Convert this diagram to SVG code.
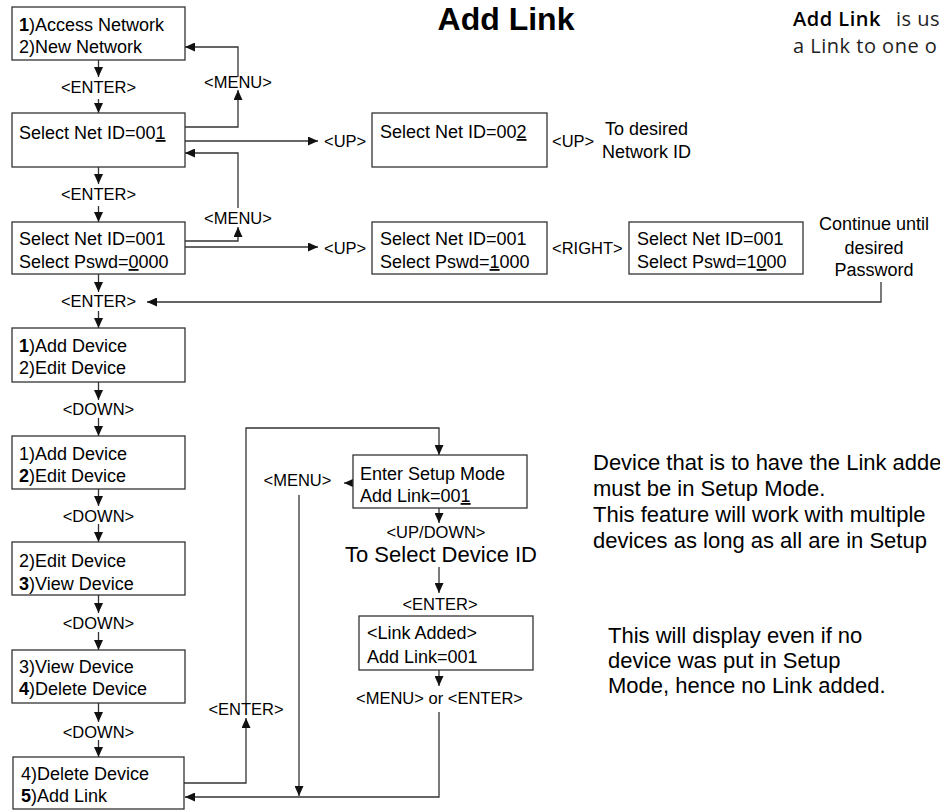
<svg xmlns="http://www.w3.org/2000/svg" width="940" height="811" viewBox="0 0 940 811">
<style>
  .box { fill: #fff; stroke: #333; stroke-width: 1.3; }
  .bt { font-family: "Liberation Sans", Arial, sans-serif; font-size: 18px; fill: #000; }
  .lb { font-family: "Liberation Sans", Arial, sans-serif; font-size: 16.5px; fill: #000; }
  .mid { text-anchor: middle; }
  .big { font-family: "Liberation Sans", Arial, sans-serif; font-size: 22px; fill: #000; }
  .note { font-family: "Open Sans", "DejaVu Sans", sans-serif; font-size: 20px; letter-spacing: 0.5px; fill: #222; }
  .con { fill: none; stroke: #333; stroke-width: 1.3; }
  .ar { marker-end: url(#ah); }
  .u { text-decoration: underline; }
  .b { font-weight: bold; }
</style>
<defs>
  <marker id="ah" markerUnits="userSpaceOnUse" markerWidth="10" markerHeight="9" refX="10" refY="4.5" orient="auto">
    <path d="M0,0 L10,4.5 L0,9 z" fill="#111"/>
  </marker>
</defs>
<rect width="940" height="811" fill="#fff"/>

<g id="title">
  <text x="506" y="30" font-family="Liberation Sans, Arial, sans-serif" font-size="32" font-weight="bold" text-anchor="middle">Add Link</text>
</g>
<g id="intro">
  <text class="note" x="793" y="25.5"><tspan fill="#000" font-weight="600">Add Link</tspan><tspan x="896">is us</tspan></text>
  <text class="note" x="793" y="53">a Link to one o</text>
</g>

<g id="connectors">
  <path class="con ar" d="M98.5,60 V77"/>
  <path class="con ar" d="M98.5,99 V113"/>
  <path class="con ar" d="M98.5,167 V184"/>
  <path class="con ar" d="M98.5,206 V222"/>
  <path class="con ar" d="M98.5,274 V292"/>
  <path class="con ar" d="M98.5,311 V328"/>
  <path class="con ar" d="M98.5,382 V400"/>
  <path class="con ar" d="M98.5,418 V436"/>
  <path class="con ar" d="M98.5,489 V506"/>
  <path class="con ar" d="M98.5,524 V542"/>
  <path class="con ar" d="M98.5,595 V613"/>
  <path class="con ar" d="M98.5,632 V650"/>
  <path class="con ar" d="M98.5,703 V722"/>
  <path class="con ar" d="M98.5,740 V757"/>

  <path class="con ar" d="M185,127 H238 V90"/>
  <path class="con ar" d="M238,77 V47 H185"/>
  <path class="con ar" d="M185,141 H318"/>
  <path class="con ar" d="M238,208 V153 H185"/>
  <path class="con ar" d="M185,241 H238 V227"/>
  <path class="con ar" d="M185,247 H318"/>
  <path class="con ar" d="M881,282 V302 H147"/>

  <path class="con ar" d="M184,783 H246 V718"/>
  <path class="con ar" d="M246,703 V428 H439 V455"/>
  <path class="con ar" d="M353,483 H344"/>
  <path class="con ar" d="M299,495 V796"/>
  <path class="con ar" d="M439,712 V797 H185"/>
  <path class="con ar" d="M439,508 V523"/>
  <path class="con ar" d="M439,567 V593"/>
  <path class="con ar" d="M439,670 V686"/>
</g>

<g id="labels">
  <text class="lb mid" x="98.5" y="93">&lt;ENTER&gt;</text>
  <text class="lb mid" x="98.5" y="200">&lt;ENTER&gt;</text>
  <text class="lb mid" x="98.5" y="307">&lt;ENTER&gt;</text>
  <text class="lb mid" x="98.5" y="415">&lt;DOWN&gt;</text>
  <text class="lb mid" x="98.5" y="522">&lt;DOWN&gt;</text>
  <text class="lb mid" x="98.5" y="629">&lt;DOWN&gt;</text>
  <text class="lb mid" x="98.5" y="738">&lt;DOWN&gt;</text>
  <text class="lb mid" x="238" y="88">&lt;MENU&gt;</text>
  <text class="lb mid" x="238" y="224">&lt;MENU&gt;</text>
  <text class="lb" x="324" y="147">&lt;UP&gt;</text>
  <text class="lb" x="552" y="147">&lt;UP&gt;</text>
  <text class="bt mid" x="646.5" y="135">To desired</text>
  <text class="bt mid" x="646.5" y="158">Network ID</text>
  <text class="lb" x="324" y="254">&lt;UP&gt;</text>
  <text class="lb" x="552" y="254">&lt;RIGHT&gt;</text>
  <text class="bt mid" x="874" y="230">Continue until</text>
  <text class="bt mid" x="874" y="254">desired</text>
  <text class="bt mid" x="874" y="276">Password</text>
  <text class="lb mid" x="246" y="715">&lt;ENTER&gt;</text>
  <text class="lb mid" x="297.5" y="486">&lt;MENU&gt;</text>
  <text class="lb mid" x="436" y="538" font-size="15">&lt;UP/DOWN&gt;</text>
  <text class="big mid" x="441" y="562">To Select Device ID</text>
  <text class="lb mid" x="440" y="610">&lt;ENTER&gt;</text>
  <text class="lb mid" x="439.5" y="704">&lt;MENU&gt; or &lt;ENTER&gt;</text>
</g>

<g id="node-main-menu">
  <rect class="box" x="12" y="7" width="173" height="53"/>
  <text class="bt" x="19" y="31"><tspan class="b">1</tspan>)Access Network</text>
  <text class="bt" x="19" y="53">2)New Network</text>
</g>
<g id="node-net-id-001">
  <rect class="box" x="12" y="113" width="173" height="54"/>
  <text class="bt" x="19" y="139">Select Net ID=00<tspan class="u">1</tspan></text>
</g>
<g id="node-net-id-002">
  <rect class="box" x="372" y="113" width="175" height="54"/>
  <text class="bt" x="380" y="138">Select Net ID=00<tspan class="u">2</tspan></text>
</g>
<g id="node-pswd-0000">
  <rect class="box" x="12" y="222" width="173" height="52"/>
  <text class="bt" x="19" y="245">Select Net ID=001</text>
  <text class="bt" x="19" y="268">Select Pswd=<tspan class="u">0</tspan>000</text>
</g>
<g id="node-pswd-1000a">
  <rect class="box" x="372" y="222" width="175" height="52"/>
  <text class="bt" x="380" y="245">Select Net ID=001</text>
  <text class="bt" x="380" y="268">Select Pswd=<tspan class="u">1</tspan>000</text>
</g>
<g id="node-pswd-1000b">
  <rect class="box" x="629" y="222" width="174" height="52"/>
  <text class="bt" x="637" y="245">Select Net ID=001</text>
  <text class="bt" x="637" y="268">Select Pswd=1<tspan class="u">0</tspan>00</text>
</g>
<g id="node-device-1">
  <rect class="box" x="12" y="328" width="173" height="54"/>
  <text class="bt" x="19" y="352"><tspan class="b">1</tspan>)Add Device</text>
  <text class="bt" x="19" y="374">2)Edit Device</text>
</g>
<g id="node-device-2">
  <rect class="box" x="12" y="436" width="173" height="53"/>
  <text class="bt" x="19" y="460">1)Add Device</text>
  <text class="bt" x="19" y="482"><tspan class="b">2</tspan>)Edit Device</text>
</g>
<g id="node-device-3">
  <rect class="box" x="12" y="542" width="173" height="53"/>
  <text class="bt" x="19" y="567">2)Edit Device</text>
  <text class="bt" x="19" y="590"><tspan class="b">3</tspan>)View Device</text>
</g>
<g id="node-device-4">
  <rect class="box" x="12" y="650" width="173" height="53"/>
  <text class="bt" x="19" y="673">3)View Device</text>
  <text class="bt" x="19" y="695"><tspan class="b">4</tspan>)Delete Device</text>
</g>
<g id="node-device-5">
  <rect class="box" x="13" y="757" width="171" height="52"/>
  <text class="bt" x="21" y="780">4)Delete Device</text>
  <text class="bt" x="21" y="802"><tspan class="b">5</tspan>)Add Link</text>
</g>
<g id="node-setup-mode">
  <rect class="box" x="353" y="455" width="174" height="53"/>
  <text class="bt" x="360" y="480">Enter Setup Mode</text>
  <text class="bt" x="360" y="502">Add Link=00<tspan class="u">1</tspan></text>
</g>
<g id="node-link-added">
  <rect class="box" x="359" y="616" width="174" height="54"/>
  <text class="bt" x="367" y="639">&lt;Link Added&gt;</text>
  <text class="bt" x="367" y="663">Add Link=001</text>
</g>

<g id="notes">
  <text class="big" x="593" y="470">Device that is to have the Link adde</text>
  <text class="big" x="593" y="496">must be in Setup Mode.</text>
  <text class="big" x="593" y="522">This feature will work with multiple</text>
  <text class="big" x="593" y="548">devices as long as all are in Setup</text>
  <text class="big" x="608" y="643">This will display even if no</text>
  <text class="big" x="608" y="668">device was put in Setup</text>
  <text class="big" x="608" y="693">Mode, hence no Link added.</text>
</g>
</svg>
